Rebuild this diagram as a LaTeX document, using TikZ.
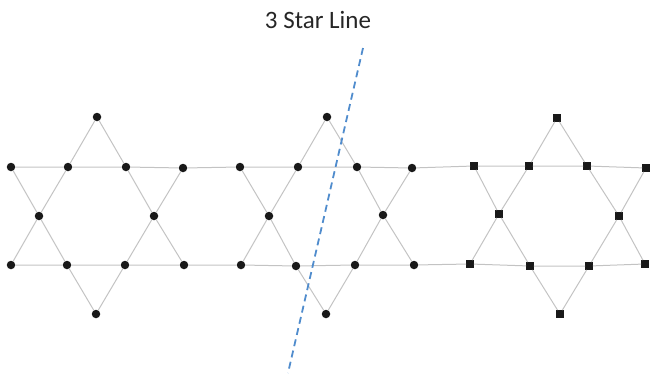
\documentclass[tikz,border=0pt]{standalone}
\usepackage{fontspec}
\newfontfamily\titlefont{Carlito}
\usepackage{tikz}
\usetikzlibrary{positioning}
\definecolor{cutblue}{RGB}{80,140,205}
\definecolor{edgegray}{RGB}{195,195,195}

\begin{document}
\begin{tikzpicture}[
    x=1pt, y=-1pt,
    dot/.style={circle, fill=black!90, inner sep=0pt, minimum size=8.5pt},
    sq/.style={rectangle, fill=black!90, inner sep=0pt, minimum size=7.5pt},
    edge/.style={draw=edgegray, line width=1pt},
    cut/.style={draw=cutblue, line width=1.8pt, dash pattern=on 7pt off 4.5pt}
]
\useasboundingbox (0,0) rectangle (651,375);

% Title
\node[font=\titlefont\fontsize{25}{30}\selectfont, text=black!85] (title) at (318,20) {3 Star Line};

% Star A
\node[dot] (Atop) at (97,117) {};
\node[dot] (Auol) at (11,167) {}; \node[dot] (Auil) at (68,167) {};
\node[dot] (Auir) at (126,167) {}; \node[dot] (Auor) at (183,168) {};
\node[dot] (Amdl) at (39,216) {}; \node[dot] (Amdr) at (154,216) {};
\node[dot] (Alol) at (11,265) {}; \node[dot] (Alil) at (67,265) {};
\node[dot] (Alir) at (125,265) {}; \node[dot] (Alor) at (184,265) {};
\node[dot] (Abot) at (96,314) {};

% Star B
\node[dot] (Btop) at (327,117) {};
\node[dot] (Buol) at (240,167) {}; \node[dot] (Buil) at (298,167) {};
\node[dot] (Buir) at (357,167) {}; \node[dot] (Buor) at (412,168) {};
\node[dot] (Bmdl) at (269,216) {}; \node[dot] (Bmdr) at (383,215) {};
\node[dot] (Blol) at (241,265) {}; \node[dot] (Blil) at (296,266) {};
\node[dot] (Blir) at (355,265) {}; \node[dot] (Blor) at (414,265) {};
\node[dot] (Bbot) at (326,314) {};

% Star C
\node[sq] (Ctop) at (557,118) {};
\node[sq] (Cuol) at (474,166) {}; \node[sq] (Cuil) at (529,166) {};
\node[sq] (Cuir) at (587,166) {}; \node[sq] (Cuor) at (646,168) {};
\node[sq] (Cmdl) at (499,214) {}; \node[sq] (Cmdr) at (619,216) {};
\node[sq] (Clol) at (470,264) {}; \node[sq] (Clil) at (530,266) {};
\node[sq] (Clir) at (589,266) {}; \node[sq] (Clor) at (645,264) {};
\node[sq] (Cbot) at (560,314) {};

% Rows through all stars
\draw[edge] (Auol) -- (Auil) -- (Auir) -- (Auor) -- (Buol) -- (Buil) -- (Buir) -- (Buor)
    -- (Cuol) -- (Cuil) -- (Cuir) -- (Cuor);
\draw[edge] (Alol) -- (Alil) -- (Alir) -- (Alor) -- (Blol) -- (Blil) -- (Blir) -- (Blor)
    -- (Clol) -- (Clil) -- (Clir) -- (Clor);

% Star sides
\draw[edge] (Atop) -- (Auil) -- (Amdl) -- (Alol);
\draw[edge] (Atop) -- (Auir) -- (Amdr) -- (Alor);
\draw[edge] (Auol) -- (Amdl) -- (Alil) -- (Abot);
\draw[edge] (Auor) -- (Amdr) -- (Alir) -- (Abot);

\draw[edge] (Btop) -- (Buil) -- (Bmdl) -- (Blol);
\draw[edge] (Btop) -- (Buir) -- (Bmdr) -- (Blor);
\draw[edge] (Buol) -- (Bmdl) -- (Blil) -- (Bbot);
\draw[edge] (Buor) -- (Bmdr) -- (Blir) -- (Bbot);

\draw[edge] (Ctop) -- (Cuil) -- (Cmdl) -- (Clol);
\draw[edge] (Ctop) -- (Cuir) -- (Cmdr) -- (Clor);
\draw[edge] (Cuol) -- (Cmdl) -- (Clil) -- (Cbot);
\draw[edge] (Cuor) -- (Cmdr) -- (Clir) -- (Cbot);

% Cut line
\coordinate (cutT) at (363,48);
\coordinate (cutB) at (288,373);
\draw[cut] (cutT) -- (cutB);

\end{tikzpicture}
\end{document}
